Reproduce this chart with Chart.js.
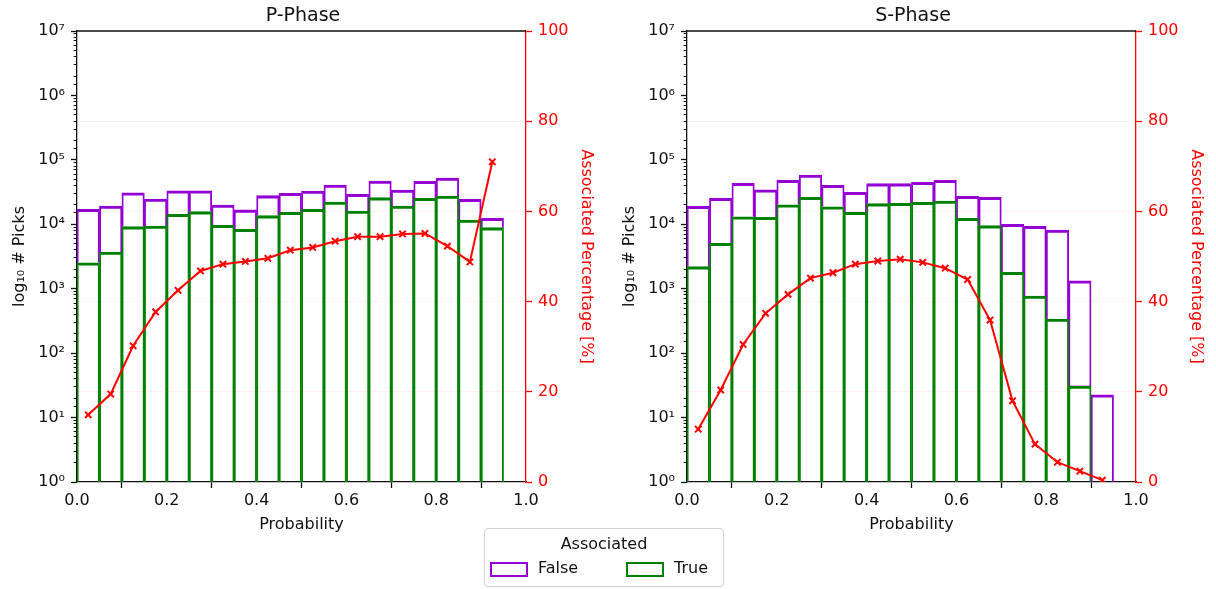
<!DOCTYPE html>
<html lang="en">
<head>
    <meta charset="UTF-8">
    <title>P-Phase / S-Phase</title>
    <script src="https://cdn.jsdelivr.net/npm/chart.js"></script>
    <style>
        body { margin: 0; background: #fff; width: 1216px; height: 589px; overflow: hidden; position: relative; font-family: 'DejaVu Sans', sans-serif; }
        canvas { position: absolute; top: 0; }
        #left { left: 0; }
        #right { left: 610px; }
        /* leyenda comun a los dos paneles */
        #legend {
            position: absolute; left: 484px; top: 528px; width: 238px; height: 57px;
            border: 1px solid #d0d0d0; border-radius: 4px; background: #fff;
            font-size: 16px; color: #111;
        }
        #legend .ttl { position: absolute; left: 0; right: 0; top: 5px; text-align: center; }
        #legend .sw { position: absolute; top: 33px; width: 34px; height: 11px; border: 2px solid; }
        #legend .lb { position: absolute; top: 29px; }
    </style>
</head>
<body>
    <canvas id="left" width="606" height="540"></canvas>
    <canvas id="right" width="606" height="540"></canvas>
    <div id="legend">
        <div class="ttl">Associated</div>
        <div class="sw" style="left:5px; border-color:#9400d3;"></div>
        <div class="lb" style="left:53px;">False</div>
        <div class="sw" style="left:141px; border-color:#008000;"></div>
        <div class="lb" style="left:189px;">True</div>
    </div>

    <script>
        // centros de los bins de probabilidad
        const binCenters = [0.025, 0.075, 0.125, 0.175, 0.225, 0.275, 0.325, 0.375, 0.425, 0.475,
                            0.525, 0.575, 0.625, 0.675, 0.725, 0.775, 0.825, 0.875, 0.925];

        // P-Phase: total (False+True apilado), solo True, porcentaje asociado
        const pTotal = [17100, 19200, 30900, 24700, 33200, 33200, 19900, 16700, 27800, 30300,
                        32800, 40700, 29200, 47000, 34000, 46500, 52300, 24400, 12400];
        const pTrue  = [2530, 3710, 9180, 9400, 14300, 15700, 9640, 8350, 13600, 15300,
                        17100, 22200, 16100, 25900, 19200, 25300, 27500, 11600, 8850];
        const pPct   = [14.9, 19.5, 30.2, 37.7, 42.5, 46.8, 48.3, 48.9, 49.6, 51.4,
                        52.0, 53.4, 54.4, 54.4, 55.0, 55.1, 52.3, 48.8, 71.0];

        // S-Phase
        const sTotal = [19000, 25300, 43200, 34400, 48100, 58200, 40300, 31300, 42700, 42700,
                        44800, 48100, 27200, 26200, 9980, 9300, 8150, 1330, 22.6];
        const sTrue  = [2200, 5060, 13100, 12800, 20100, 26200, 18700, 15300, 20900, 21100,
                        21900, 23000, 12400, 9510, 1800, 771, 339, 30.9, null];
        const sPct   = [11.7, 20.4, 30.5, 37.4, 41.6, 45.2, 46.4, 48.3, 49.0, 49.4,
                        48.7, 47.4, 44.9, 35.9, 18.0, 8.4, 4.4, 2.4, 0.4];

        const supDigits = ['⁰', '¹', '²', '³', '⁴', '⁵', '⁶', '⁷', '⁸', '⁹'];

        Chart.defaults.font.family = "'DejaVu Sans', sans-serif";
        Chart.defaults.font.size = 16;
        Chart.defaults.color = '#111';

        const isDecade = v => Math.abs(Math.log10(v) - Math.round(Math.log10(v))) < 1e-9;

        // linea superior del marco (spine de matplotlib)
        const topSpine = {
            id: 'topSpine',
            afterDatasetsDraw(chart) {
                const a = chart.chartArea, ctx = chart.ctx;
                ctx.save();
                ctx.strokeStyle = '#111';
                ctx.lineWidth = 1.3;
                ctx.beginPath();
                ctx.moveTo(a.left, a.top);
                ctx.lineTo(a.right, a.top);
                ctx.stroke();
                ctx.restore();
            }
        };

        function crearPanel(id, titulo, total, verdaderos, porcentaje) {
            const falseBars = binCenters.map((x, i) => ({ x: x, y: [verdaderos[i] || 1, total[i]] }));
            const trueBars = binCenters.map((x, i) => ({ x: x, y: verdaderos[i] ? [1, verdaderos[i]] : null }));
            const pctPoints = binCenters.map((x, i) => ({ x: x, y: porcentaje[i] }));

            const barBorder = { top: 2.4, bottom: 0, left: 1.2, right: 1.2 };

            new Chart(document.getElementById(id), {
                type: 'bar',
                data: {
                    datasets: [{
                        type: 'line',
                        label: 'Associated Percentage',
                        data: pctPoints,
                        yAxisID: 'y2',
                        borderColor: 'red',
                        borderWidth: 2,
                        pointStyle: 'crossRot',
                        pointRadius: 4.5,
                        pointBorderWidth: 2,
                        pointBorderColor: 'red',
                        tension: 0,
                        order: 0
                    }, {
                        label: 'True',
                        data: trueBars,
                        yAxisID: 'y',
                        backgroundColor: 'rgba(0,0,0,0)',
                        borderColor: '#008000',
                        borderWidth: barBorder,
                        borderSkipped: false,
                        grouped: false,
                        barPercentage: 1,
                        categoryPercentage: 1,
                        order: 1
                    }, {
                        label: 'False',
                        data: falseBars,
                        yAxisID: 'y',
                        backgroundColor: 'rgba(0,0,0,0)',
                        borderColor: '#9400d3',
                        borderWidth: barBorder,
                        borderSkipped: false,
                        grouped: false,
                        barPercentage: 1,
                        categoryPercentage: 1,
                        order: 2
                    }]
                },
                options: {
                    responsive: false,
                    animation: false,
                    layout: { padding: 0 },
                    plugins: {
                        legend: { display: false },
                        tooltip: { enabled: false },
                        title: {
                            display: true,
                            text: titulo,
                            color: '#111',
                            font: { size: 19, weight: 'normal' },
                            padding: { top: 5, bottom: 3.2 }
                        }
                    },
                    scales: {
                        x: {
                            type: 'linear',
                            position: 'bottom',
                            min: 0,
                            max: 1,
                            offset: false,
                            ticks: { stepSize: 0.2, maxRotation: 0, padding: 3, callback: v => v.toFixed(1) },
                            grid: { drawOnChartArea: false, tickLength: 6, tickColor: '#111', tickWidth: 1.3 },
                            border: { color: '#111', width: 1.3 },
                            title: { display: true, text: 'Probability', padding: { top: 0, bottom: 6 } },
                            afterFit: s => { s.height = 58; }
                        },
                        y: {
                            type: 'logarithmic',
                            position: 'left',
                            min: 1,
                            max: 1e7,
                            ticks: {
                                autoSkip: false,
                                padding: 6,
                                callback: v => isDecade(v) ? '10' + supDigits[Math.round(Math.log10(v))] : ''
                            },
                            grid: {
                                drawOnChartArea: false,
                                tickLength: 6,
                                tickColor: '#111',
                                tickWidth: c => isDecade(c.tick.value) ? 1.3 : 1,
                                tickBorderDash: c => isDecade(c.tick.value) ? [] : [0, 2.6, 4, 100]
                            },
                            border: { color: '#111', width: 1.3 },
                            title: { display: true, text: 'log₁₀ # Picks', padding: { top: 10, bottom: 0 } },
                            afterFit: s => { s.width = 77; }
                        },
                        y2: {
                            type: 'linear',
                            position: 'right',
                            min: 0,
                            max: 100,
                            ticks: { stepSize: 20, color: 'red', padding: 6 },
                            grid: {
                                drawOnChartArea: true,
                                color: c => (c.tick.value > 0 && c.tick.value < 100) ? 'rgba(255,0,0,0.06)' : 'rgba(0,0,0,0)',
                                tickColor: 'red',
                                tickLength: 6,
                                tickWidth: 1.3
                            },
                            border: { color: 'red', width: 1.3 },
                            title: { display: true, text: 'Associated Percentage [%]', color: 'red', padding: { top: 10, bottom: 0 } },
                            afterFit: s => { s.width = 80; }
                        }
                    }
                },
                plugins: [topSpine]
            });
        }

        crearPanel('left', 'P-Phase', pTotal, pTrue, pPct);
        crearPanel('right', 'S-Phase', sTotal, sTrue, sPct);
    </script>
</body>
</html>
